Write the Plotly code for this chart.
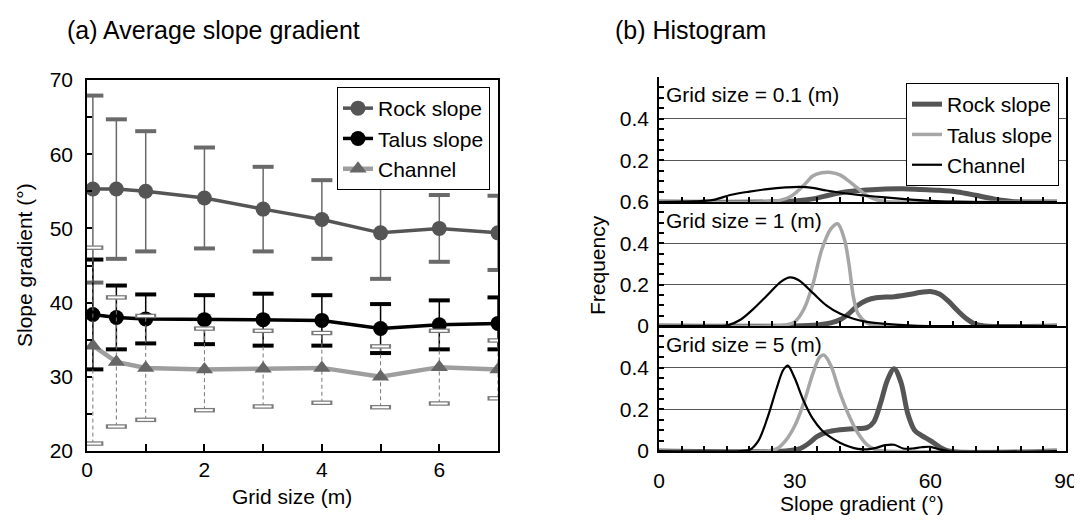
import plotly.graph_objects as go

# ---- (a) average slope gradient vs grid size ----
GRID_X = [0.1, 0.5, 1, 2, 3, 4, 5, 6, 7]
ROCK_MEAN = [55.3, 55.3, 55.0, 54.1, 52.6, 51.2, 49.4, 50.0, 49.4]
ROCK_SD = [12.6, 9.4, 8.1, 6.8, 5.7, 5.3, 6.2, 4.5, 5.0]
TALUS_MEAN = [38.4, 38.0, 37.8, 37.7, 37.7, 37.6, 36.5, 37.0, 37.2]
TALUS_SD = [7.4, 4.3, 3.3, 3.3, 3.5, 3.4, 3.3, 3.3, 3.5]
CHANNEL_MEAN = [34.2, 32.0, 31.2, 31.0, 31.1, 31.2, 30.0, 31.3, 31.0]
CHANNEL_SD = [13.2, 8.7, 7.0, 5.5, 5.1, 4.7, 4.1, 4.9, 3.9]

# ---- (b) histograms (frequency vs slope gradient) ----
ROCK_01_X = [0, 25, 30, 34, 38, 42, 46, 50, 54, 58, 62, 66, 70, 74, 78, 82, 88]
ROCK_01_Y = [0, 0, 0.005, 0.015, 0.035, 0.05, 0.058, 0.063, 0.064, 0.06, 0.056, 0.048, 0.032, 0.015, 0.003, 0, 0]
TALUS_01_X = [0, 22, 26, 29, 32, 34, 36, 38, 40, 42, 44, 46, 48, 50, 53, 88]
TALUS_01_Y = [0, 0, 0.005, 0.025, 0.08, 0.125, 0.14, 0.142, 0.13, 0.1, 0.065, 0.03, 0.012, 0.003, 0, 0]
CHANNEL_01_X = [0, 8, 12, 16, 20, 24, 28, 31, 34, 37, 41, 45, 50, 55, 60, 65, 70, 88]
CHANNEL_01_Y = [0, 0.003, 0.01, 0.035, 0.05, 0.062, 0.07, 0.073, 0.068, 0.055, 0.042, 0.032, 0.022, 0.013, 0.006, 0.002, 0, 0]

ROCK_1_X = [0, 30, 35, 38, 40, 42, 44, 46, 48, 50, 52, 54, 56, 58, 60, 62, 64, 66, 68, 70, 72, 88]
ROCK_1_Y = [0, 0, 0.005, 0.015, 0.03, 0.06, 0.1, 0.125, 0.137, 0.14, 0.142, 0.148, 0.155, 0.163, 0.167, 0.155, 0.12, 0.075, 0.035, 0.008, 0, 0]
TALUS_1_X = [0, 25, 28, 30, 32, 34, 36, 38, 39.5, 41, 42, 43, 44, 46, 48, 88]
TALUS_1_Y = [0, 0, 0.005, 0.02, 0.08, 0.2, 0.37, 0.47, 0.495, 0.42, 0.3, 0.14, 0.06, 0.015, 0, 0]
CHANNEL_1_X = [0, 10, 15, 18, 21, 24, 27, 29, 31, 34, 37, 40, 43, 46, 50, 55, 60, 88]
CHANNEL_1_Y = [0, 0, 0.002, 0.03, 0.085, 0.15, 0.215, 0.235, 0.22, 0.16, 0.1, 0.06, 0.035, 0.02, 0.01, 0.003, 0, 0]

ROCK_5_X = [0, 28, 31, 33, 35, 37, 40, 43, 46, 47.5, 49, 50.5, 52, 53.5, 55, 56.5, 58, 60, 62, 64, 88]
ROCK_5_Y = [0, 0, 0.01, 0.035, 0.07, 0.09, 0.102, 0.107, 0.112, 0.14, 0.23, 0.34, 0.395, 0.33, 0.18, 0.1, 0.075, 0.05, 0.02, 0, 0]
TALUS_5_X = [0, 24, 26, 28, 30, 32, 34, 35.5, 36.5, 38, 40, 42, 44, 46, 48, 50, 88]
TALUS_5_Y = [0, 0, 0.01, 0.05, 0.12, 0.23, 0.37, 0.45, 0.46, 0.41, 0.28, 0.17, 0.085, 0.03, 0.006, 0, 0]
CHANNEL_5_X = [0, 18, 20, 22, 24, 26, 27.5, 28.5, 30, 32, 34, 36, 38, 40, 42, 44, 46, 48, 50, 52, 54, 56, 58, 60, 62, 64, 88]
CHANNEL_5_Y = [0, 0, 0.005, 0.05, 0.16, 0.3, 0.39, 0.41, 0.35, 0.24, 0.155, 0.1, 0.065, 0.04, 0.022, 0.01, 0.008, 0.015, 0.028, 0.03, 0.012, 0.012, 0.018, 0.02, 0.008, 0, 0]

FONT = "Liberation Sans, Arial, sans-serif"
W, H = 1082, 522
OFF = 8  # the page body margin shifts the figure by this many pixels


def px_x(p):
    return (p - OFF) / W


def px_y(p):
    return 1 - (p - OFF) / H


fig = go.Figure()


def err_segments(xs, mean, sd):
    sx, sy = [], []
    for x, m, s in zip(xs, mean, sd):
        sx += [x, x, None]
        sy += [m - s, m + s, None]
    return sx, sy


def add_errors(xs, mean, sd, color, width, dash):
    sx, sy = err_segments(xs, mean, sd)
    fig.add_trace(go.Scatter(x=sx, y=sy, mode="lines", showlegend=False, hoverinfo="skip",
                             line=dict(color=color, width=width, dash=dash)))


def add_caps(xs, mean, sd, color, hollow=False):
    cx = list(xs) + list(xs)
    cy = [m + s for m, s in zip(mean, sd)] + [m - s for m, s in zip(mean, sd)]
    fig.add_trace(go.Scatter(x=cx, y=cy, mode="markers", showlegend=False, hoverinfo="skip",
                             marker=dict(symbol="line-ew", size=15,
                                         line=dict(width=4.5 if hollow else 4, color=color))))
    if hollow:
        fig.add_trace(go.Scatter(x=cx, y=cy, mode="markers", showlegend=False, hoverinfo="skip",
                                 marker=dict(symbol="line-ew", size=12, line=dict(width=2, color="white"))))


# rock slope
add_errors(GRID_X, ROCK_MEAN, ROCK_SD, "#6a6a6a", 1.5, "solid")
add_caps(GRID_X, ROCK_MEAN, ROCK_SD, "#6a6a6a")
fig.add_trace(go.Scatter(x=GRID_X, y=ROCK_MEAN, mode="lines+markers", name="Rock slope",
                         line=dict(color="#555555", width=3.5),
                         marker=dict(symbol="circle", size=15, color="#555555")))
# talus slope
add_errors(GRID_X, TALUS_MEAN, TALUS_SD, "black", 1.5, "solid")
add_caps(GRID_X, TALUS_MEAN, TALUS_SD, "black")
fig.add_trace(go.Scatter(x=GRID_X, y=TALUS_MEAN, mode="lines+markers", name="Talus slope",
                         line=dict(color="black", width=3.5),
                         marker=dict(symbol="circle", size=15, color="black")))
# channel
add_errors(GRID_X, CHANNEL_MEAN, CHANNEL_SD, "#777777", 1, "4px,3px")
fig.add_trace(go.Scatter(x=GRID_X, y=CHANNEL_MEAN, mode="lines+markers", name="Channel",
                         line=dict(color="#9e9e9e", width=4.5),
                         marker=dict(symbol="triangle-up", size=15, color="#666666")))
add_caps(GRID_X, CHANNEL_MEAN, CHANNEL_SD, "#7a7a7a", hollow=True)

# ---- histogram panels ----
panels = [
    ("x2", "y2", ROCK_01_X, ROCK_01_Y, TALUS_01_X, TALUS_01_Y, CHANNEL_01_X, CHANNEL_01_Y),
    ("x3", "y3", ROCK_1_X, ROCK_1_Y, TALUS_1_X, TALUS_1_Y, CHANNEL_1_X, CHANNEL_1_Y),
    ("x4", "y4", ROCK_5_X, ROCK_5_Y, TALUS_5_X, TALUS_5_Y, CHANNEL_5_X, CHANNEL_5_Y),
]
for i, (xa, ya, rx, ry, tx, ty, cx, cy) in enumerate(panels):
    first = i == 0
    fig.add_trace(go.Scatter(x=rx, y=ry, xaxis=xa, yaxis=ya, mode="lines", name="Rock slope",
                             legend="legend2", showlegend=first,
                             line=dict(color="#555555", width=5, shape="spline", smoothing=0.9)))
    fig.add_trace(go.Scatter(x=tx, y=ty, xaxis=xa, yaxis=ya, mode="lines", name="Talus slope",
                             legend="legend2", showlegend=first,
                             line=dict(color="#a6a6a6", width=3.5, shape="spline", smoothing=0.9)))
    fig.add_trace(go.Scatter(x=cx, y=cy, xaxis=xa, yaxis=ya, mode="lines", name="Channel",
                             legend="legend2", showlegend=first,
                             line=dict(color="black", width=2.2, shape="spline", smoothing=0.9)))

# pixel layout -> paper fractions
LX = [px_x(87), px_x(498)]
LY = [px_y(451), px_y(80)]
RX = [px_x(659), px_x(1066)]
R_BOUNDS = [(77, 202), (202, 326), (326, 451)]
RY = [[px_y(b), px_y(t)] for t, b in R_BOUNDS]

tick_font = dict(family=FONT, size=21, color="black")

fig.update_layout(
    width=W, height=H,
    margin=dict(l=0, r=0, t=0, b=0),
    paper_bgcolor="white", plot_bgcolor="white",
    font=dict(family=FONT, size=21, color="black"),
    xaxis=dict(domain=LX, range=[0, 7], anchor="y", tickvals=[0, 2, 4, 6], automargin=False,
               ticks="inside", ticklen=7, tickwidth=2, tickcolor="black",
               minor=dict(ticks="inside", tickmode="linear", tick0=0, dtick=1, ticklen=7, tickwidth=2, tickcolor="black"),
               showline=True, linecolor="black", linewidth=1.5, mirror=True,
               showgrid=False, zeroline=False, tickfont=tick_font, ticklabelstandoff=-1),
    yaxis=dict(domain=LY, range=[20, 70], anchor="x", tickvals=[20, 30, 40, 50, 60, 70], automargin=False,
               ticks="inside", ticklen=5, tickwidth=2, tickcolor="black",
               minor=dict(ticks="inside", tickmode="linear", tick0=0, dtick=5, ticklen=5, tickwidth=2, tickcolor="black"),
               showline=True, linecolor="black", linewidth=1.5, mirror=True,
               showgrid=False, zeroline=False, tickfont=tick_font, ticklabelstandoff=8),
    legend=dict(x=px_x(490), xanchor="right", y=px_y(87), yanchor="top",
                bgcolor="white", bordercolor="black", borderwidth=1,
                font=dict(family=FONT, size=21), itemwidth=30, tracegroupgap=0),
    legend2=dict(x=px_x(1059), xanchor="right", y=px_y(83), yanchor="top",
                 bgcolor="white", bordercolor="black", borderwidth=1,
                 font=dict(family=FONT, size=21), itemwidth=30, tracegroupgap=0),
)

y_ticks = [[0.2, 0.4], [0, 0.2, 0.4, 0.6], [0, 0.2, 0.4]]
for i, n in enumerate([2, 3, 4]):
    fig.update_layout(**{
        f"xaxis{n}": dict(domain=RX, range=[0, 90], anchor=f"y{n}", matches="x4", automargin=False,
                          tickvals=[0, 30, 60, 90], showticklabels=(n == 4),
                          ticks="inside", ticklen=5, tickwidth=2, tickcolor="black",
                          minor=dict(ticks="inside", tickmode="linear", tick0=0, dtick=5, ticklen=5,
                                     tickwidth=2, tickcolor="black"),
                          showline=True, linecolor="black", linewidth=2, mirror=False,
                          showgrid=False, zeroline=False, tickfont=tick_font, ticklabelstandoff=10),
        f"yaxis{n}": dict(domain=RY[i], range=[0, 0.6], anchor=f"x{n}", automargin=False,
                          tickvals=y_ticks[i], ticktext=[f"{v:g}" for v in y_ticks[i]],
                          ticks="inside", ticklen=5, tickwidth=2, tickcolor="black",
                          minor=dict(ticks="inside", tickmode="linear", tick0=0, dtick=0.05, ticklen=5,
                                     tickwidth=2, tickcolor="black"),
                          showline=True, linecolor="black", linewidth=1.5, mirror=True,
                          showgrid=True, gridcolor="#555555", gridwidth=1,
                          zeroline=False, tickfont=tick_font, ticklabelstandoff=4),
    })

ann = [
    dict(text="(a) Average slope gradient", x=px_x(65), y=px_y(30), xanchor="left", yanchor="middle", font=dict(size=25)),
    dict(text="(b) Histogram", x=px_x(613), y=px_y(30), xanchor="left", yanchor="middle", font=dict(size=25)),
    dict(text="Grid size (m)", x=px_x(292), y=px_y(496), xanchor="center", yanchor="middle", font=dict(size=21)),
    dict(text="Slope gradient (°)", x=px_x(862), y=px_y(503), xanchor="center", yanchor="middle", font=dict(size=21)),
    dict(text="Slope gradient (°)", x=px_x(25), y=px_y(265), xanchor="center", yanchor="middle", textangle=-90, font=dict(size=21)),
    dict(text="Frequency", x=px_x(598), y=px_y(265), xanchor="center", yanchor="middle", textangle=-90, font=dict(size=21)),
]
labels = ["Grid size = 0.1 (m)", "Grid size = 1 (m)", "Grid size = 5 (m)"]
for (t, b), lab in zip(R_BOUNDS, labels):
    ann.append(dict(text=lab, x=px_x(664), y=px_y(t + 18), xanchor="left", yanchor="middle", font=dict(size=21)))
for a in ann:
    a.update(xref="paper", yref="paper", showarrow=False)
    a["font"] = dict(family=FONT, color="black", **a["font"])
fig.update_layout(annotations=ann)

fig.write_html("out.html")
